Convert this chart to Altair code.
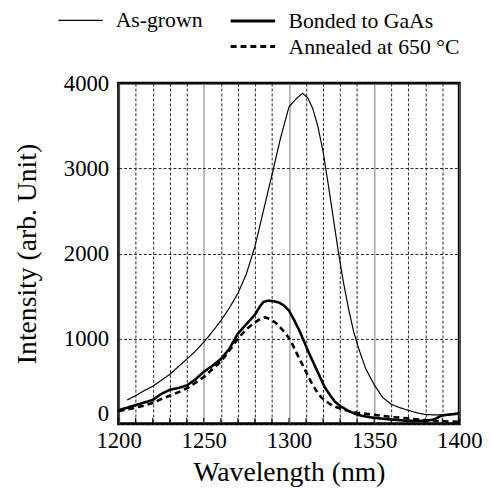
import altair as alt
import pandas as pd

# ---- data ----
as_grown_wl = [1205, 1210, 1215, 1220, 1225, 1230, 1235, 1240, 1245, 1250, 1255, 1260, 1265, 1270,
               1275, 1280, 1285, 1290, 1295, 1300, 1303, 1305, 1308, 1311, 1314, 1317, 1320, 1323,
               1326, 1329, 1332, 1335, 1338, 1341, 1345, 1350, 1355, 1360, 1365, 1370, 1375, 1380,
               1385, 1390, 1395, 1400]
as_grown_int = [280, 330, 390, 440, 510, 580, 670, 760, 850, 960, 1080, 1210, 1360, 1530,
                1760, 2080, 2500, 2920, 3350, 3720, 3790, 3830, 3880, 3830, 3700, 3490, 3200, 2820,
                2420, 2020, 1660, 1350, 1080, 880, 650, 460, 310, 230, 190, 160, 130, 110,
                105, 105, 115, 130]

bonded_wl = [1200, 1205, 1210, 1215, 1220, 1225, 1230, 1235, 1240, 1245, 1250, 1255, 1260, 1265,
             1270, 1275, 1280, 1283, 1285, 1288, 1291, 1294, 1297, 1300, 1303, 1306, 1309, 1312,
             1315, 1318, 1321, 1324, 1327, 1330, 1335, 1340, 1345, 1350, 1360, 1370, 1380, 1385,
             1390, 1395, 1400]
bonded_int = [160, 190, 220, 250, 280, 350, 400, 420, 450, 520, 610, 680, 760, 880,
              1060, 1170, 1280, 1380, 1430, 1445, 1440, 1425, 1390, 1330, 1220, 1100, 960, 820,
              690, 560, 430, 340, 260, 210, 150, 110, 85, 70, 50, 35, 35, 50,
              100, 110, 120]

annealed_wl = [1200, 1205, 1210, 1215, 1220, 1225, 1230, 1235, 1240, 1245, 1250, 1255, 1260, 1265,
               1270, 1275, 1280, 1283, 1286, 1289, 1292, 1295, 1298, 1301, 1304, 1307, 1310, 1313,
               1316, 1319, 1322, 1326, 1330, 1335, 1340, 1350, 1360, 1370, 1380, 1390, 1400]
annealed_int = [150, 170, 190, 215, 245, 290, 330, 370, 415, 480, 550, 640, 730, 860,
                1000, 1110, 1190, 1230, 1250, 1230, 1190, 1130, 1060, 980, 850, 730, 610, 490,
                390, 310, 260, 210, 180, 150, 130, 105, 80, 65, 40, 30, 25]

series_names = ["As-grown", "Bonded to GaAs", "Annealed at 650 \u00b0C"]
x_grid_values = list(range(1200, 1401, 10))
y_tick_values = [0, 1000, 2000, 3000, 4000]
tick_length_units = 70  # inward tick length, in intensity units

# ---- tables ----
df1 = pd.DataFrame({"wl": as_grown_wl, "I": as_grown_int, "s": series_names[0]})
df2 = pd.DataFrame({"wl": bonded_wl, "I": bonded_int, "s": series_names[1]})
df3 = pd.DataFrame({"wl": annealed_wl, "I": annealed_int, "s": series_names[2]})
df_ticks = pd.DataFrame({"wl": x_grid_values, "I": 0, "I2": tick_length_units})

FONT = "Liberation Serif, DejaVu Serif, serif"

x_enc = alt.X(
    "wl:Q",
    scale=alt.Scale(domain=[1200, 1400], nice=False, zero=False),
    axis=alt.Axis(
        title="Wavelength (nm)",
        values=x_grid_values,
        labelExpr="datum.value % 50 == 0 ? datum.label : ''",
        format="d",
        tickSize=0,
        labelPadding=6,
        titlePadding=6,
        domain=False,
        grid=True,
        gridColor={"condition": {"test": "datum.value % 50 == 0", "value": "#777777"}, "value": "#222222"},
        gridDash={"condition": {"test": "datum.value % 50 == 0", "value": []}, "value": [3, 2]},
        gridWidth=1,
        labelOverlap=False,
        labelFlush=False,
    ),
)
y_enc = alt.Y(
    "I:Q",
    scale=alt.Scale(domain=[0, 4000], nice=False),
    axis=alt.Axis(
        title="Intensity (arb. Unit)",
        values=y_tick_values,
        format="d",
        tickSize=0,
        labelPadding=10,
        titlePadding=22,
        labelOffset={"condition": {"test": "datum.value == 0", "value": -10}, "value": 0},
        domain=False,
        grid=True,
        gridColor="#222222",
        gridDash=[3, 2],
        gridWidth=1,
    ),
)


def legend_at(x, y, width):
    return alt.Legend(
        title=None, orient="none", legendX=x, legendY=y,
        symbolType="stroke", symbolSize=2025, symbolStrokeWidth=width,
        symbolStrokeColor="black", labelFontSize=22, labelFont=FONT,
        labelOffset=12, labelColor="black", labelLimit=400,
    )


ticks = alt.Chart(df_ticks).mark_rule(color="black", strokeWidth=1).encode(
    x=x_enc, y=y_enc, y2="I2:Q",
)

line1 = alt.Chart(df1).mark_line(color="black", strokeWidth=1.2).encode(
    x=x_enc, y=y_enc,
    strokeDash=alt.StrokeDash(
        "s:N", scale=alt.Scale(domain=[series_names[0]], range=[[1, 0]]),
        legend=legend_at(-62, -87, 1.3),
    ),
)

line2 = alt.Chart(df2).mark_line(color="black", strokeWidth=2.6).encode(
    x=x_enc, y=y_enc,
    strokeDash=alt.StrokeDash(
        "s:N", scale=alt.Scale(domain=[series_names[1]], range=[[1, 0]]),
        legend=legend_at(112, -87, 3),
    ),
)

line3 = alt.Chart(df3).mark_line(color="black", strokeWidth=2.6).encode(
    x=x_enc, y=y_enc,
    strokeDash=alt.StrokeDash(
        "s:N", scale=alt.Scale(domain=[series_names[2]], range=[[6, 4]]),
        legend=legend_at(112, -61, 3),
    ),
)

chart = (
    alt.layer(ticks, line1, line2, line3)
    .resolve_scale(strokeDash="independent")
    .resolve_legend(strokeDash="independent")
    .properties(
        width=345,
        height=345,
        autosize=alt.AutoSizeParams(type="none"),
        padding={"left": 112, "top": 73, "right": 24, "bottom": 70},
    )
    .configure(font=FONT)
    .configure_view(stroke="black", strokeWidth=3)
    .configure_axis(
        labelFont=FONT, titleFont=FONT, labelFontSize=23, titleFontSize=28,
        titleFontWeight="normal", labelColor="black", titleColor="black",
    )
    .configure_legend(labelFont=FONT)
)

chart.save("out.html", embed_options={"renderer": "svg", "actions": False})
